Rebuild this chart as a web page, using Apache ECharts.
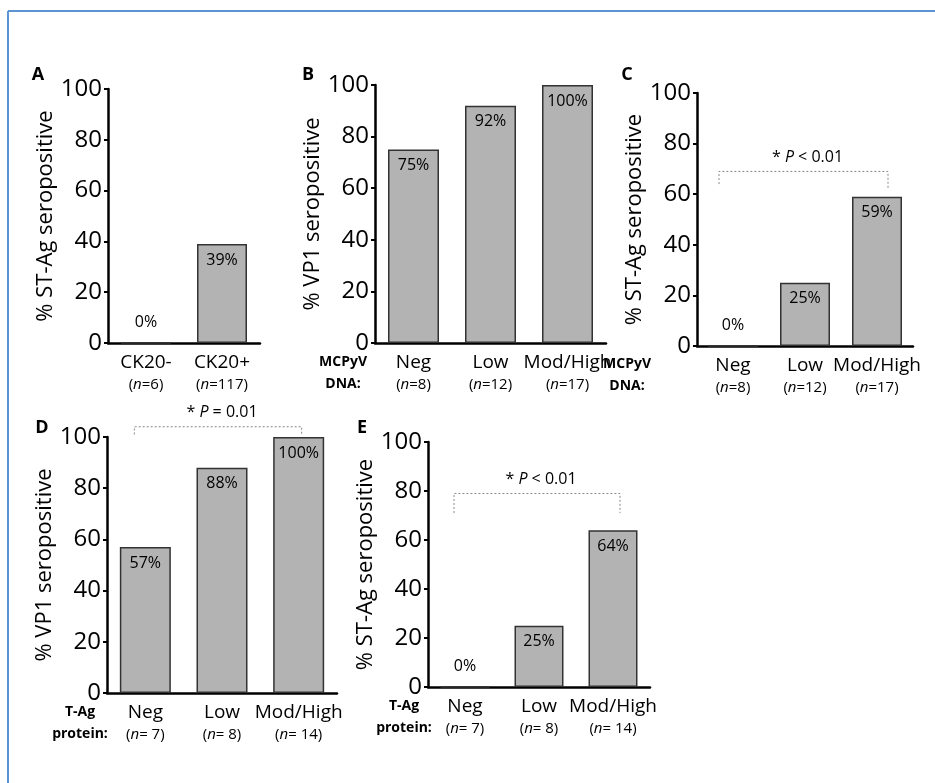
<!DOCTYPE html>
<html>
<head>
<meta charset="utf-8">
<script src="https://cdn.jsdelivr.net/npm/echarts@6/dist/echarts.min.js"></script>
<style>
  html, body { margin: 0; padding: 0; background: #fff; }
  #chart { width: 935px; height: 783px; }
</style>
</head>
<body>
<div id="chart"></div>
<script>
// panel data
var catsA = ['CK20-', 'CK20+'];
var nA = ['6', '117'];
var valsA = [0, 39];

var catsB = ['Neg', 'Low', 'Mod/High'];
var nB = ['8', '12', '17'];
var valsB = [75, 92, 100];

var catsC = ['Neg', 'Low', 'Mod/High'];
var nC = ['8', '12', '17'];
var valsC = [0, 25, 59];

var catsD = ['Neg', 'Low', 'Mod/High'];
var nD = [' 7', ' 8', ' 14'];
var valsD = [57, 88, 100];

var catsE = ['Neg', 'Low', 'Mod/High'];
var nE = [' 7', ' 8', ' 14'];
var valsE = [0, 25, 64];

// significance brackets: grid, top value, left leg end, right leg end, label
var brackets = [
  { grid: 2, top: 69, left: 64, right: 62, dl: -14, dr: 11, op: '<' },
  { grid: 3, top: 104, left: 101, right: 101, dl: -11, dr: 3, op: '=' },
  { grid: 4, top: 79, left: 71, right: 71, dl: -11, dr: 7, op: '<' }
];

var FONT = '"Open Sans", "Noto Sans", sans-serif';
var myChart = echarts.init(document.getElementById('chart'));

var panels = [
  { cats: catsA, n: nA, vals: valsA, name: '% ST-Ag seropositive', left: 108, right: 260, top: 89, bottom: 343, bw: 50 },
  { cats: catsB, n: nB, vals: valsB, name: '% VP1 seropositive', left: 375, right: 606, top: 85, bottom: 343, bw: 51 },
  { cats: catsC, n: nC, vals: valsC, name: '% ST-Ag seropositive', left: 697, right: 913, top: 93, bottom: 346, bw: 50 },
  { cats: catsD, n: nD, vals: valsD, name: '% VP1 seropositive', left: 107, right: 337, top: 437, bottom: 693, bw: 51 },
  { cats: catsE, n: nE, vals: valsE, name: '% ST-Ag seropositive', left: 428, right: 650, top: 442, bottom: 687, bw: 49 }
];

var grids = [], xAxes = [], yAxes = [], series = [];
panels.forEach(function (p, i) {
  grids.push({ left: p.left, top: p.top, width: p.right - p.left, height: p.bottom - p.top });
  xAxes.push({
    type: 'category', gridIndex: i, data: p.cats,
    axisLine: { lineStyle: { color: '#000', width: 2.5 } },
    axisTick: { alignWithLabel: true, length: 4, lineStyle: { color: '#000', width: 2 } },
    axisLabel: {
      margin: 8, interval: 0,
      formatter: function (v, idx) {
        return '{c|' + v + '}\n{n|(}{i|n}{n|=' + p.n[idx] + ')}';
      },
      rich: {
        c: { fontSize: 19, fontFamily: FONT, color: '#000', lineHeight: 23 },
        n: { fontSize: 15, fontFamily: FONT, color: '#000', lineHeight: 22 },
        i: { fontSize: 15, fontFamily: FONT, color: '#000', fontStyle: 'italic', lineHeight: 22 }
      }
    }
  });
  yAxes.push({
    type: 'value', gridIndex: i, min: 0, max: 100, interval: 20,
    name: p.name, nameLocation: 'middle', nameGap: 50, nameRotate: 90,
    nameTextStyle: { fontSize: 22, fontFamily: FONT, color: '#000' },
    axisLine: { show: true, lineStyle: { color: '#000', width: 2.5 } },
    axisTick: { show: true, length: 4, lineStyle: { color: '#000', width: 2 } },
    splitLine: { show: false },
    axisLabel: { fontSize: 24, fontFamily: FONT, color: '#000', margin: 6 }
  });
  series.push({
    type: 'bar', xAxisIndex: i, yAxisIndex: i, barWidth: p.bw,
    data: p.vals.map(function (v) {
      return {
        value: v,
        label: { position: v === 0 ? 'top' : 'insideTop', distance: v === 0 ? 12 : 8 }
      };
    }),
    itemStyle: { color: '#b3b3b3', borderColor: '#333', borderWidth: 1.5 },
    label: { show: true, formatter: '{c}%', fontSize: 16, fontFamily: FONT, color: '#000' },
    silent: true, animation: false
  });
});

var graphics = [
  { type: 'line', shape: { x1: 8, y1: 11, x2: 935, y2: 11 }, style: { stroke: '#5b93d3', lineWidth: 2 } },
  { type: 'line', shape: { x1: 8, y1: 11, x2: 8, y2: 783 }, style: { stroke: '#5b93d3', lineWidth: 2 } }
];
var letters = [['A', 38, 75], ['B', 308, 75], ['C', 627, 75], ['D', 42, 428], ['E', 362, 428]];
letters.forEach(function (l) {
  graphics.push({ type: 'text', x: l[1], y: l[2], style: { text: l[0], font: 'bold 18px ' + FONT, fill: '#000', align: 'center', verticalAlign: 'middle' } });
});
var sides = [['MCPyV', 'DNA:', 343, 362], ['MCPyV', 'DNA:', 627, 364], ['T-Ag', 'protein:', 80, 712], ['T-Ag', 'protein:', 404, 706]];
sides.forEach(function (s) {
  graphics.push({ type: 'text', x: s[2], y: s[3], style: { text: s[0], font: 'bold 14px ' + FONT, fill: '#000', align: 'center', verticalAlign: 'middle' } });
  graphics.push({ type: 'text', x: s[2], y: s[3] + 22, style: { text: s[1], font: 'bold 14px ' + FONT, fill: '#000', align: 'center', verticalAlign: 'middle' } });
});

myChart.setOption({
  animation: false,
  grid: grids, xAxis: xAxes, yAxis: yAxes, series: series
});

brackets.forEach(function (b) {
  var last = panels[b.grid].cats.length - 1;
  var pl = myChart.convertToPixel({ gridIndex: b.grid }, [0, b.top]);
  var pr = myChart.convertToPixel({ gridIndex: b.grid }, [last, b.top]);
  var yl = myChart.convertToPixel({ gridIndex: b.grid }, [0, b.left])[1];
  var yr = myChart.convertToPixel({ gridIndex: b.grid }, [last, b.right])[1];
  var xl = pl[0] + b.dl, xr = pr[0] + b.dr, yt = pl[1];
  graphics.push({
    type: 'polyline',
    shape: { points: [[xl, yl], [xl, yt], [xr, yt], [xr, yr]] },
    style: { stroke: '#888', lineWidth: 1, lineDash: [2, 2], fill: null }
  });
  graphics.push({
    type: 'text', x: (xl + xr) / 2 + 4, y: yt - 14,
    style: {
      text: '{s|* }{p|P}{s| ' + b.op + ' 0.01}',
      align: 'center', verticalAlign: 'middle',
      rich: {
        s: { fontSize: 16, fontFamily: FONT, fill: '#000' },
        p: { fontSize: 16, fontFamily: FONT, fill: '#000', fontStyle: 'italic' }
      }
    }
  });
});

myChart.setOption({ graphic: graphics });

window.addEventListener('resize', function () {
  myChart.resize();
});
</script>
</body>
</html>
